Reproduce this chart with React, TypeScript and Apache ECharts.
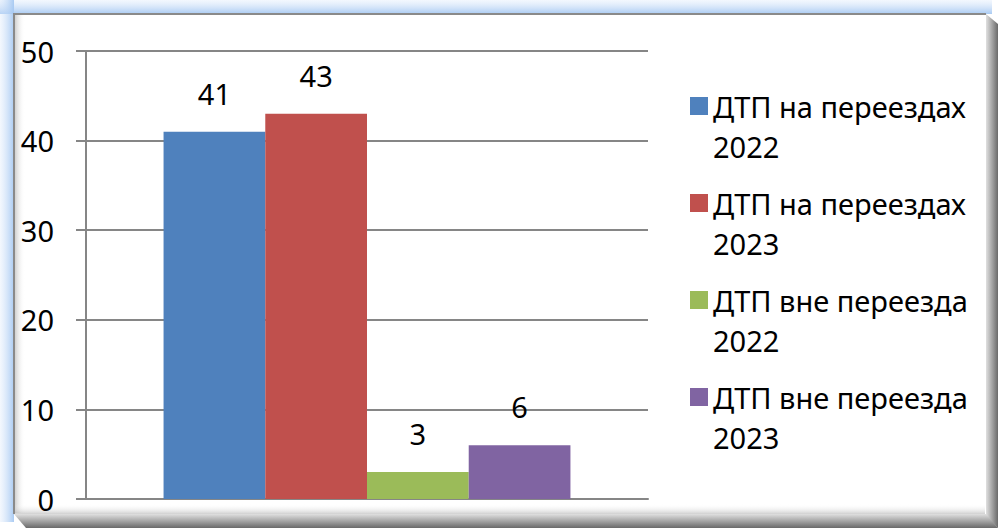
import React, { useEffect, useRef } from "react";
import * as echarts from "echarts";

const categories = [""];
const seriesNames = [
  "ДТП на переездах 2022",
  "ДТП на переездах 2023",
  "ДТП вне переезда 2022",
  "ДТП вне переезда 2023",
];
const seriesValues = [[41], [43], [3], [6]];
const seriesColors = ["#4F81BD", "#C0504D", "#9BBB59", "#8064A2"];
const yMin = 0;
const yMax = 50;
const yInterval = 10;

const FONT = "'Noto Sans', 'DejaVu Sans', sans-serif";

export default function App() {
  const ref = useRef<HTMLDivElement>(null);
  useEffect(() => {
    document.body.style.margin = "0";
    const chart = echarts.init(ref.current!, null, { renderer: "svg" });
    const W = 998;
    const H = 528;
    const option: any = {
      animation: false,
      backgroundColor: "#ffffff",
      textStyle: { fontFamily: FONT },
      graphic: [
        {
          type: "rect",
          z: -10,
          silent: true,
          shape: { x: 0, y: 0, width: 992, height: 14 },
          style: {
            fill: new echarts.graphic.LinearGradient(0, 0, 0, 1, [
              { offset: 0, color: "rgba(215,230,250,0.3)" },
              { offset: 1, color: "rgba(165,200,242,0.95)" },
            ]),
          },
        },
        {
          type: "rect",
          z: -10,
          silent: true,
          shape: { x: 0, y: 0, width: 14, height: 522 },
          style: {
            fill: new echarts.graphic.LinearGradient(0, 0, 1, 0, [
              { offset: 0, color: "rgba(215,230,250,0.3)" },
              { offset: 1, color: "rgba(165,200,242,0.95)" },
            ]),
          },
        },
        {
          type: "polygon",
          z: -9,
          silent: true,
          shape: { points: [[986, 14], [998, 24], [998, 528], [986, 516]] },
          style: {
            fill: new echarts.graphic.LinearGradient(0, 0, 1, 0, [
              { offset: 0, color: "#e0e0e0" },
              { offset: 1, color: "#6a6a6a" },
            ]),
          },
        },
        {
          type: "polygon",
          z: -9,
          silent: true,
          shape: { points: [[14, 514], [986, 514], [998, 528], [26, 528]] },
          style: {
            fill: new echarts.graphic.LinearGradient(0, 0, 0, 1, [
              { offset: 0, color: "#e0e0e0" },
              { offset: 1, color: "#6a6a6a" },
            ]),
          },
        },
        {
          type: "rect",
          z: -8,
          silent: true,
          shape: { x: 14, y: 14, width: 972, height: 500 },
          style: { fill: "#ffffff" },
        },
        {
          type: "rect",
          z: -7,
          silent: true,
          shape: { x: 15, y: 15, width: 10, height: 498 },
          style: {
            fill: new echarts.graphic.LinearGradient(0, 0, 1, 0, [
              { offset: 0, color: "rgba(170,170,170,0.55)" },
              { offset: 1, color: "rgba(255,255,255,0)" },
            ]),
          },
        },
        {
          type: "rect",
          z: -7,
          silent: true,
          shape: { x: 15, y: 504, width: 970, height: 10 },
          style: {
            fill: new echarts.graphic.LinearGradient(0, 1, 0, 0, [
              { offset: 0, color: "rgba(170,170,170,0.55)" },
              { offset: 1, color: "rgba(255,255,255,0)" },
            ]),
          },
        },
        {
          type: "polyline",
          z: -6,
          silent: true,
          shape: { points: [[14, 514], [14, 14], [986, 14]] },
          style: { stroke: "#8a8a8a", lineWidth: 2, fill: "none" },
        },
      ],
      legend: {
        orient: "vertical",
        left: 690,
        top: 46,
        padding: 0,
        itemGap: -23,
        itemWidth: 18,
        itemHeight: 18,
        icon: "rect",
        selectedMode: false,
        data: seriesNames,
        formatter: (name: string) => {
          const parts = name.split(" ");
          const year = parts.pop();
          return " \n" + parts.join(" ") + "\n" + year;
        },
        textStyle: {
          fontFamily: FONT,
          fontSize: 29,
          color: "#000000",
          lineHeight: 40,
        },
      },
      grid: { left: 86, right: W - 648, top: 51, bottom: H - 499, containLabel: false },
      xAxis: {
        type: "category",
        data: categories,
        axisLine: { show: true, lineStyle: { color: "#868686", width: 2 } },
        axisTick: { show: false },
        axisLabel: { show: false },
      },
      yAxis: {
        type: "value",
        min: yMin,
        max: yMax,
        interval: yInterval,
        axisLine: { show: true, lineStyle: { color: "#868686", width: 2 } },
        axisTick: { show: true, inside: false, length: 10, lineStyle: { color: "#868686", width: 2 } },
        splitLine: { show: true, lineStyle: { color: "#868686", width: 2 } },
        axisLabel: { margin: 32, fontFamily: FONT, fontSize: 29, color: "#000000" },
      },
      series: seriesNames.map((name, i) => ({
        name,
        type: "bar",
        data: seriesValues[i],
        barGap: "0%",
        barCategoryGap: "27.6%",
        itemStyle: { color: seriesColors[i] },
        label: {
          show: true,
          position: "top",
          distance: 24,
          fontFamily: FONT,
          fontSize: 29,
          color: "#000000",
        },
      })),
    };
    chart.setOption(option);
    return () => chart.dispose();
  }, []);
  return <div ref={ref} style={{ width: 998, height: 528 }} />;
}
